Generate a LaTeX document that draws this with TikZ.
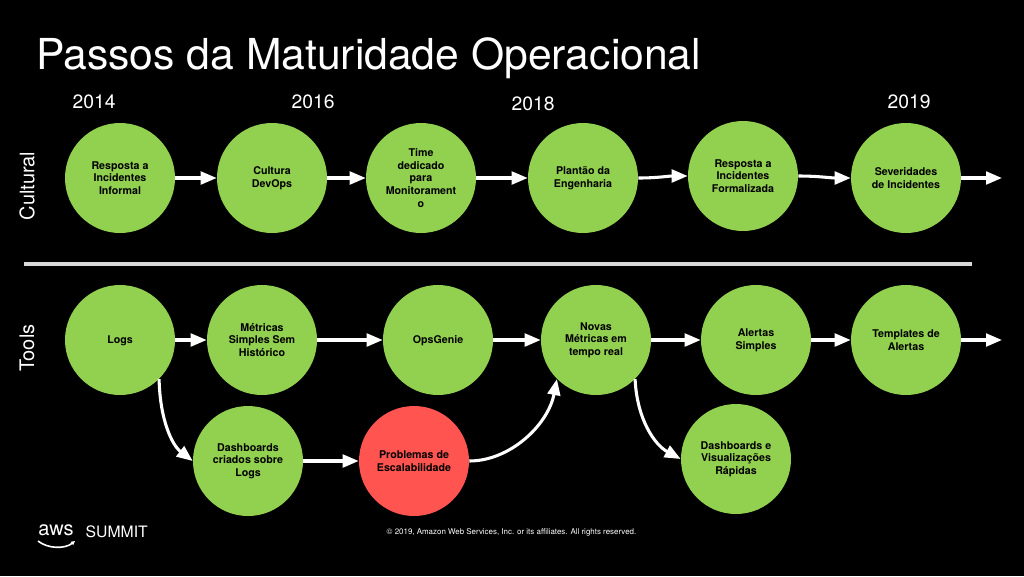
\documentclass[tikz,border=0pt]{standalone}
\usepackage{fontspec}
\setmainfont{TeX Gyre Heros}
\usepackage{xcolor}
\usetikzlibrary{arrows.meta,positioning,calc}
\definecolor{stepgreen}{HTML}{92D050}
\definecolor{stepred}{HTML}{FF5450}
\tikzset{
  stepnode/.style={circle,fill=stepgreen,minimum size=82.5pt,inner sep=0pt,align=center,text=black,font=\fontsize{8}{9.5}\selectfont\bfseries,execute at begin node={\rule{0pt}{7.3pt}}},
  flow/.style={draw=white,line width=2.3pt,-{Triangle[length=12pt,width=9.5pt]}},
  yearlabel/.style={text=white,font=\fontsize{14.5}{16}\selectfont},
  rowlabel/.style={text=white,rotate=90,font=\fontsize{15}{16}\selectfont},
}
\begin{document}
\begin{tikzpicture}[x=0.75pt,y=-0.75pt]
\useasboundingbox[fill=black] (0,0) rectangle (1024,576);
\node[text=white,anchor=west,font=\fontsize{32}{36}\selectfont] (title) at (31.5,58) {Passos da Maturidade Operacional};
% anos
\node[yearlabel] (y14) at (94,102) {2014};
\node[yearlabel] (y16) at (313,102) {2016};
\node[yearlabel] (y18) at (533,104) {2018};
\node[yearlabel] (y19) at (909,102) {2019};
\node[rowlabel] (cultural) at (27,186) {Cultural};
\node[rowlabel] (tools) at (27,348) {Tools};
% cultural
\node[stepnode] (c1) at (120,178) {Resposta a\\Incidentes\\Informal};
\node[stepnode] (c2) at (272,178) {Cultura\\DevOps};
\node[stepnode] (c3) at (421,178) {Time\\dedicado\\para\\Monitorament\\o};
\node[stepnode] (c4) at (583,178) {Plantão da\\Engenharia};
\node[stepnode] (c5) at (743,176) {Resposta a\\Incidentes\\Formalizada};
\node[stepnode] (c6) at (906,178) {Severidades\\de Incidentes};
\coordinate (cend) at (1002,178);
\draw[flow] (c1) -- (c2);
\draw[flow] (c2) -- (c3);
\draw[flow] (c3) -- (c4);
\draw[flow] (c4.east) to[out=0,in=180] (c5.west);
\draw[flow] (c5.east) to[out=0,in=180] (c6.west);
\draw[flow] (c6) -- (cend);
% separador
\coordinate (sepa) at (24,264);
\coordinate (sepb) at (972,264);
\draw[draw=white!85!black,line width=2.4pt] (sepa) -- (sepb);
% tools
\node[stepnode] (t1) at (120,340) {Logs};
\node[stepnode] (t2) at (262,340) {Métricas\\Simples Sem\\Histórico};
\node[stepnode] (t3) at (438,340) {OpsGenie};
\node[stepnode] (t4) at (596,340) {Novas\\Métricas em\\tempo real};
\node[stepnode] (t5) at (756,340) {Alertas\\Simples};
\node[stepnode] (t6) at (906,340) {Templates de\\Alertas};
\coordinate (tend) at (1002,340);
\node[stepnode] (d1) at (248,461) {Dashboards\\criados sobre\\Logs};
\node[stepnode,fill=stepred] (d2) at (414,461) {Problemas de\\Escalabilidade};
\node[stepnode] (d3) at (736,459) {Dashboards e\\Visualizações\\Rápidas};
\draw[flow] (t1) -- (t2);
\draw[flow] (t2) -- (t3);
\draw[flow] (t3) -- (t4);
\draw[flow] (t4) -- (t5);
\draw[flow] (t5) -- (t6);
\draw[flow] (t6) -- (tend);
\draw[flow] (d1) -- (d2);
\draw[flow] (t1.-45) .. controls (160,420) and (172,445) .. (d1.180);
\draw[flow] (d2.0) .. controls (510,461) and (548,425) .. (t4.-135);
\draw[flow] (t4.-45) .. controls (637,420) and (655,445) .. (d3.180);
% rodape
\node[text=white,font=\fontsize{15}{16}\selectfont] (aws) at (56,530) {aws};
\coordinate (smilea) at (38,541);
\coordinate (smileb) at (75,541);
\draw[draw=white,line width=1.2pt,-{Triangle[length=3pt,width=3pt]}] (smilea) .. controls (48,549) and (65,549) .. (smileb);
\node[text=white,anchor=west,font=\fontsize{11.8}{14}\selectfont] (summit) at (81,532) {SUMMIT};
\node[text=white,font=\fontsize{5.95}{8}\selectfont] (copy) at (511.5,532) {© 2019, Amazon Web Services, Inc. or its affiliates. All rights reserved.};
\end{tikzpicture}
\end{document}
